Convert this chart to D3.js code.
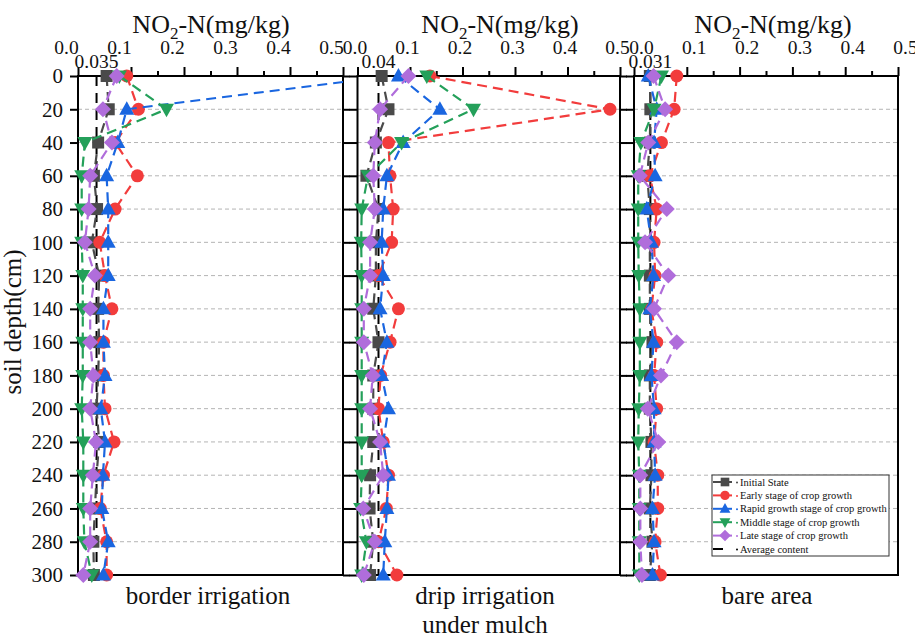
<!DOCTYPE html>
<html><head><meta charset="utf-8">
<script src="https://cdn.jsdelivr.net/npm/d3@7/dist/d3.min.js"></script>
<style>
body{margin:0;background:#fff}
text{font-family:"Liberation Serif","Times New Roman",serif;fill:#111}
</style>
</head><body>
<svg id="chart" width="915" height="637"></svg>
<script>
// ---------- DATA ----------
const depths = [0,20,40,60,80,100,120,140,160,180,200,220,240,260,280,300];
const seriesNames = ["Initial State","Early stage of crop growth","Rapid growth stage of crop growth","Middle stage of crop growth","Late stage of crop growth"];
const panelNames = ["border irrigation","drip irrigation|under mulch","bare area"];
const avgValues = [0.035, 0.04, 0.031];
const avgLabels = ["0.035","0.04","0.031"];
const xTicks = [0,0.1,0.2,0.3,0.4,0.5];
const xMinorTicks = [0.05,0.15,0.25,0.35,0.45];
const yTicks = depths;

// border irrigation
const borderInitial = [0.054,0.058,0.038,0.030,0.036,0.026,0.040,0.038,0.040,0.038,0.035,0.040,0.035,0.032,0.029,0.030];
const borderEarly   = [0.092,0.114,0.070,0.112,0.070,0.041,0.051,0.064,0.048,0.048,0.051,0.068,0.048,0.042,0.054,0.054];
const borderRapid   = [0.590,0.092,0.075,0.054,0.057,0.057,0.057,0.048,0.048,0.051,0.043,0.051,0.047,0.045,0.057,0.048];
const borderMiddle  = [0.078,0.167,0.013,0.007,0.007,0.007,0.009,0.009,0.009,0.009,0.007,0.010,0.010,0.010,0.012,0.026];
const borderLate    = [0.073,0.047,0.064,0.023,0.020,0.013,0.032,0.023,0.023,0.029,0.023,0.034,0.028,0.023,0.023,0.010];
// drip irrigation under mulch
const dripInitial = [0.046,0.059,0.035,0.017,0.040,0.035,0.035,0.030,0.040,0.030,0.030,0.030,0.024,0.023,0.030,0.024];
const dripEarly   = [0.138,0.481,0.059,0.062,0.068,0.065,0.040,0.078,0.062,0.044,0.040,0.049,0.059,0.055,0.040,0.075];
const dripRapid   = [0.078,0.157,0.087,0.056,0.049,0.046,0.049,0.043,0.056,0.046,0.059,0.049,0.059,0.056,0.052,0.049];
const dripMiddle  = [0.132,0.221,0.084,0.020,0.008,0.007,0.008,0.008,0.008,0.008,0.008,0.008,0.008,0.006,0.017,0.008];
const dripLate    = [0.097,0.043,0.033,0.030,0.033,0.024,0.024,0.012,0.012,0.029,0.024,0.043,0.049,0.011,0.033,0.012];
// bare area
const bareInitial = [0.030,0.031,0.030,0.025,0.030,0.030,0.030,0.030,0.035,0.030,0.030,0.033,0.033,0.030,0.035,0.030];
const bareEarly   = [0.081,0.076,0.052,0.030,0.043,0.038,0.040,0.033,0.043,0.038,0.043,0.038,0.045,0.045,0.040,0.050];
const bareRapid   = [0.027,0.043,0.038,0.040,0.024,0.033,0.037,0.030,0.037,0.033,0.038,0.038,0.040,0.035,0.038,0.035];
const bareMiddle  = [0.052,0.038,0.013,0.008,0.008,0.008,0.009,0.011,0.011,0.011,0.009,0.008,0.010,0.010,0.010,0.010];
const bareLate    = [0.037,0.059,0.027,0.011,0.062,0.021,0.065,0.038,0.081,0.051,0.026,0.046,0.012,0.012,0.012,0.015];

const panelSeries = [
  [borderInitial,borderEarly,borderRapid,borderMiddle,borderLate],
  [dripInitial,dripEarly,dripRapid,dripMiddle,dripLate],
  [bareInitial,bareEarly,bareRapid,bareMiddle,bareLate]
];

// ---------- STYLE / LAYOUT ----------
const colors = ["#4a4a4a","#f23c3c","#1a66e0","#24a05a","#b06ddb"];
const symbols = [
  "M-6,-6h12v12h-12z",
  "M6.5,0A6.5,6.5,0,1,1,-6.5,0A6.5,6.5,0,1,1,6.5,0Z",
  "M0,-8L7.5,5.5L-7.5,5.5Z",
  "M0,8L7.5,-5.5L-7.5,-5.5Z",
  "M0,-8L8,0L0,8L-8,0Z"
];
const panels = [
  {x0:78,   x1:343, lblDx:-12, titleX:211, nameX:208, leftLabels:true,  rightTicks:true},
  {x0:357.5,x1:620, lblDx:-3,  titleX:500, nameX:485, leftLabels:false, rightTicks:true},
  {x0:634,  x1:898, lblDx:7,   titleX:773, nameX:767, leftLabels:false, rightTicks:false}
];
const Y0 = 76, Y1 = 575;

const svg = d3.select("#chart");
const y = d3.scaleLinear().domain([0,300]).range([Y0,Y1]);

panels.forEach((p,pi)=>{
  const x = d3.scaleLinear().domain([0,0.5]).range([p.x0,p.x1]);
  const g = svg.append("g");

  // grid lines
  g.selectAll("line.grid").data(yTicks.filter(d=>d>0 && d<300)).join("line")
    .attr("x1",p.x0).attr("x2",p.x1).attr("y1",d=>y(d)).attr("y2",d=>y(d))
    .attr("stroke","#b4b4b4").attr("stroke-width",1).attr("stroke-dasharray","4,3");

  // top axis (major)
  const top = g.append("g").attr("transform",`translate(0,${Y0})`)
    .call(d3.axisTop(x).tickValues(xTicks).tickSize(9).tickPadding(13).tickFormat(d3.format(".1f")));
  top.select(".domain").remove();
  top.selectAll(".tick line").attr("stroke","#000").attr("stroke-width",2);
  top.selectAll(".tick text").attr("dx",p.lblDx).style("font-size","19.5px").attr("fill","#111");
  // top axis (minor)
  const topm = g.append("g").attr("transform",`translate(0,${Y0})`)
    .call(d3.axisTop(x).tickValues(xMinorTicks).tickSize(5).tickFormat(""));
  topm.select(".domain").remove();
  topm.selectAll(".tick line").attr("stroke","#000").attr("stroke-width",2);

  // left axis
  const left = g.append("g").attr("transform",`translate(${p.x0},0)`)
    .call(d3.axisLeft(y).tickValues(yTicks).tickSize(8).tickPadding(7).tickFormat(p.leftLabels ? d3.format("d") : ""));
  left.select(".domain").remove();
  left.selectAll(".tick line").attr("stroke","#000").attr("stroke-width",2);
  left.selectAll(".tick text").style("font-size","21px").attr("fill","#111");
  if (p.rightTicks) {
    const right = g.append("g").attr("transform",`translate(${p.x1},0)`)
      .call(d3.axisRight(y).tickValues(yTicks).tickSize(7).tickFormat(""));
    right.select(".domain").remove();
    right.selectAll(".tick line").attr("stroke","#000").attr("stroke-width",2);
  }

  // frame
  g.append("rect").attr("x",p.x0).attr("y",Y0).attr("width",p.x1-p.x0).attr("height",Y1-Y0)
    .attr("fill","none").attr("stroke","#000").attr("stroke-width",2);

  // title
  const t = g.append("text").attr("x",p.titleX).attr("y",33).attr("text-anchor","middle").style("font-size","26px");
  t.append("tspan").text("NO");
  t.append("tspan").text("2").attr("dy",6).style("font-size","17px");
  t.append("tspan").text("-N(mg/kg)").attr("dy",-6);

  // average label
  g.append("text").attr("x",x(avgValues[pi])).attr("y",68).attr("text-anchor","middle")
    .style("font-size","19.5px").text(avgLabels[pi]);

  // panel name
  panelNames[pi].split("|").forEach((s,li)=>{
    g.append("text").attr("x",p.nameX).attr("y",604+li*29).attr("text-anchor","middle")
      .style("font-size","25px").text(s);
  });

  // clip
  const cid = "clip"+pi;
  svg.append("clipPath").attr("id",cid).append("rect")
    .attr("x",p.x0-12).attr("y",Y0-12).attr("width",p.x1-p.x0+12).attr("height",Y1-Y0+24);
  const dg = g.append("g").attr("clip-path",`url(#${cid})`);

  // average line
  dg.append("line").attr("x1",x(avgValues[pi])).attr("x2",x(avgValues[pi])).attr("y1",Y0).attr("y2",Y1)
    .attr("stroke","#000").attr("stroke-width",2).attr("stroke-dasharray","10,7");

  // series
  const line = d3.line().x(d=>x(d[1])).y(d=>y(d[0]));
  panelSeries[pi].forEach((vals,si)=>{
    const pts = depths.map((d,i)=>[d,vals[i]]);
    dg.append("path").attr("d",line(pts)).attr("fill","none")
      .attr("stroke",colors[si]).attr("stroke-width",2.2).attr("stroke-dasharray","10,6");
    dg.selectAll(null).data(pts).join("path")
      .attr("d",symbols[si]).attr("transform",d=>`translate(${x(d[1])},${y(d[0])})`)
      .attr("fill",colors[si]);
  });
});

// y axis title
svg.append("text").attr("transform","translate(21,322) rotate(-90)").attr("text-anchor","middle")
  .style("font-size","25px").text("soil depth(cm)");

// legend
const lg = svg.append("g");
lg.append("rect").attr("x",712).attr("y",475).attr("width",177).attr("height",81)
  .attr("fill","#fff").attr("stroke","#333").attr("stroke-width",1);
const legendItems = seriesNames.concat(["Average content"]);
legendItems.forEach((name,i)=>{
  const cy = 482 + i*13.4;
  const col = i<5 ? colors[i] : "#000";
  if (i<5) {
    lg.append("line").attr("x1",713).attr("x2",732).attr("y1",cy).attr("y2",cy).attr("stroke",col).attr("stroke-width",2);
    lg.append("path").attr("d",symbols[i]).attr("transform",`translate(725,${cy}) scale(0.72)`).attr("fill",col);
  } else {
    lg.append("line").attr("x1",713).attr("x2",723).attr("y1",cy).attr("y2",cy).attr("stroke","#000").attr("stroke-width",2);
  }
  lg.append("circle").attr("cx",737).attr("cy",cy+0.5).attr("r",1).attr("fill",col);
  lg.append("text").attr("x",740).attr("y",cy+3.5).style("font-size","10.5px").attr("fill","#333").text(name);
});
</script>
</body></html>
